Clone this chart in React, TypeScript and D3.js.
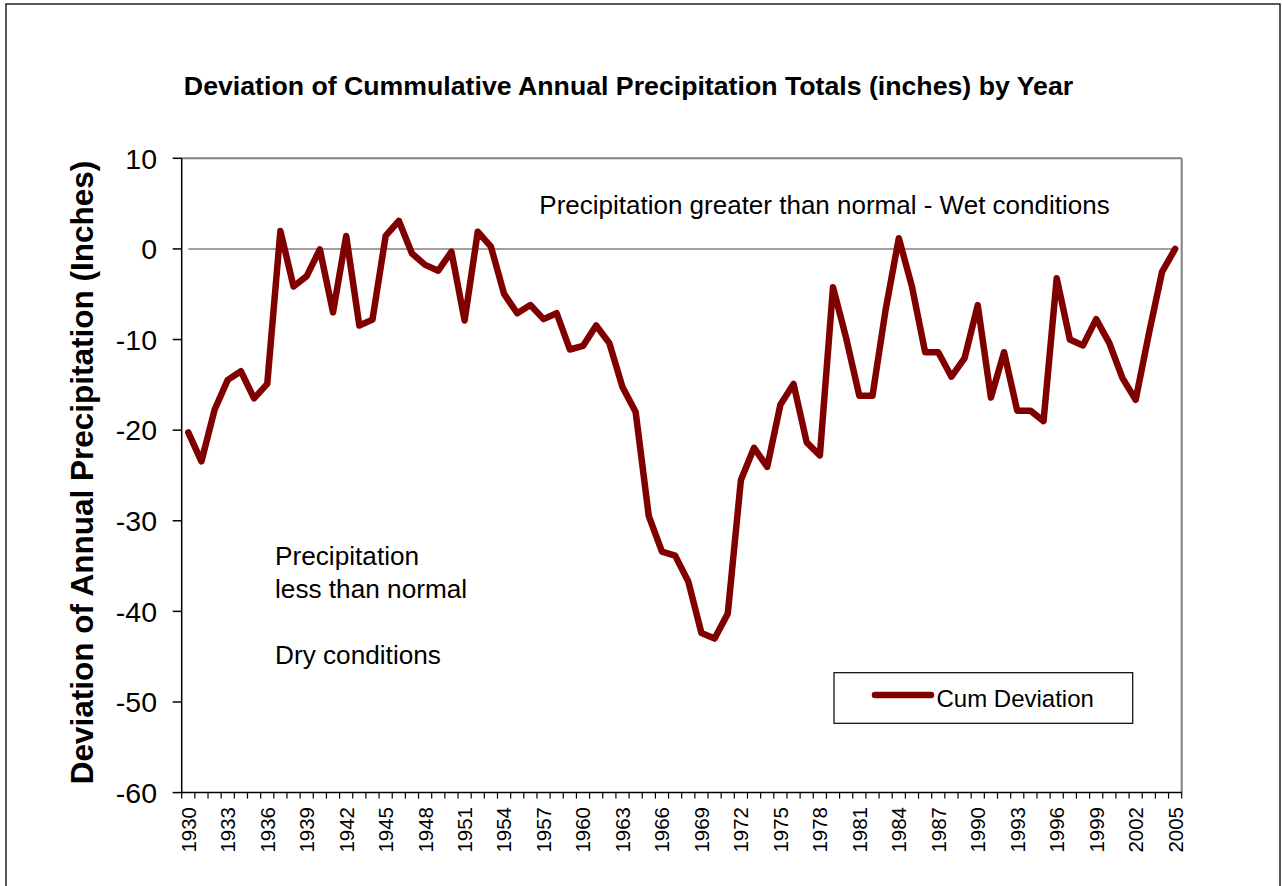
import React from "react";
import * as d3 from "d3";

const years: number[] = d3.range(1930, 2006);
const cumDeviation: number[] = [
  -20.25, -23.45, -17.75, -14.45, -13.5, -16.5, -14.9, 1.98, -4.15, -3.0,
  -0.05, -7.0, 1.43, -8.45, -7.8, 1.43, 3.1, -0.5, -1.76, -2.4,
  -0.3, -7.9, 1.9, 0.26, -4.96, -7.1, -6.2, -7.75, -7.1, -11.1,
  -10.7, -8.45, -10.4, -15.25, -18.0, -29.5, -33.4, -33.85, -36.7, -42.4,
  -43.0, -40.25, -25.5, -21.95, -24.05, -17.2, -14.9, -21.35, -22.8, -4.23,
  -9.85, -16.2, -16.2, -6.7, 1.18, -4.15, -11.4, -11.4, -14.1, -12.05,
  -6.2, -16.4, -11.4, -17.85, -17.85, -19.0, -3.23, -10.0, -10.65, -7.75,
  -10.4, -14.26, -16.65, -9.4, -2.57, 0,
];
const yTicks: number[] = [10, 0, -10, -20, -30, -40, -50, -60];
const xLabelYears: number[] = years.filter((y) => (y - 1930) % 3 === 0);

const FONT = "'Liberation Sans', Arial, Helvetica, sans-serif";
const LINE_COLOR = "#800000";

export default function App() {
  const W = 1282;
  const H = 886;
  const left = 181.7;
  const right = 1181.7;
  const top = 158.3;
  const bottom = 792.6;

  const x = d3.scaleBand<number>().domain(years).range([left, right]).padding(0);
  const bw = x.bandwidth();
  const cx = (yr: number) => (x(yr) as number) + bw / 2;
  const y = d3.scaleLinear().domain([-60, 10]).range([bottom, top]);

  const line = d3
    .line<number>()
    .x((_, i) => cx(years[i]))
    .y((d) => y(d));

  const boundaries = d3.range(0, years.length + 1).map((i) => left + i * bw);

  return (
    <svg
      width={W}
      height={H}
      style={{ position: "absolute", left: 0, top: 0, background: "#fff" }}
      fontFamily={FONT}
    >
      <rect x={0} y={0} width={W} height={H} fill="#fff" />
      <rect x={6} y={4} width={1274} height={900} fill="none" stroke="#000" strokeWidth={1.3} />

      {/* title */}
      <text x={628.5} y={95} textAnchor="middle" fontSize={26.7} fontWeight="bold" fill="#000">
        Deviation of Cummulative Annual Precipitation Totals (inches) by Year
      </text>

      {/* plot frame top/right */}
      <line x1={left} x2={right} y1={top} y2={top} stroke="#808080" strokeWidth={2} />
      <line x1={right} x2={right} y1={top} y2={bottom} stroke="#808080" strokeWidth={2} />

      {/* zero line */}
      <line
        x1={cx(years[0])}
        x2={cx(years[years.length - 1])}
        y1={y(0)}
        y2={y(0)}
        stroke="#808080"
        strokeWidth={1.5}
      />

      {/* y axis */}
      <line x1={left} x2={left} y1={top} y2={bottom} stroke="#000" strokeWidth={1.5} />
      {yTicks.map((t) => (
        <g key={t}>
          <line x1={left - 9} x2={left} y1={y(t)} y2={y(t)} stroke="#000" strokeWidth={1.5} />
          <text
            x={157}
            y={y(t)}
            dy="0.36em"
            textAnchor="end"
            fontSize={28.5}
            fill="#000"
          >
            {t}
          </text>
        </g>
      ))}

      {/* x axis */}
      <line x1={left} x2={right} y1={bottom} y2={bottom} stroke="#000" strokeWidth={1.5} />
      {boundaries.map((bx, i) => (
        <line key={i} x1={bx} x2={bx} y1={bottom} y2={bottom + 6} stroke="#000" strokeWidth={1.2} />
      ))}
      {xLabelYears.map((yr) => (
        <text
          key={yr}
          transform={`translate(${cx(yr)},${807}) rotate(-90)`}
          dy="0.36em"
          textAnchor="end"
          fontSize={20.5}
          fill="#000"
        >
          {yr}
        </text>
      ))}

      {/* y axis title */}
      <text
        transform={`translate(82,472.5) rotate(-90)`}
        dy="0.36em"
        textAnchor="middle"
        fontSize={31.5}
        fontWeight="bold"
        fill="#000"
      >
        Deviation of Annual Precipitation (Inches)
      </text>

      {/* annotations */}
      <text x={824.5} y={214} textAnchor="middle" fontSize={26} fill="#000">
        Precipitation greater than normal - Wet conditions
      </text>
      <text x={275} y={565} fontSize={26.2} fill="#000">Precipitation</text>
      <text x={275} y={598} fontSize={26.2} fill="#000">less than normal</text>
      <text x={275} y={664} fontSize={26.2} fill="#000">Dry conditions</text>

      {/* data line */}
      <path
        d={line(cumDeviation) || ""}
        fill="none"
        stroke={LINE_COLOR}
        strokeWidth={6.5}
        strokeLinejoin="round"
        strokeLinecap="round"
      />

      {/* legend */}
      <rect x={834} y={672.7} width={298.7} height={50.6} fill="#fff" stroke="#000" strokeWidth={1.2} />
      <line x1={875} x2={931} y1={695} y2={695} stroke={LINE_COLOR} strokeWidth={6.5} strokeLinecap="round" />
      <text x={936.5} y={706.5} fontSize={24} fill="#000">Cum Deviation</text>
    </svg>
  );
}
